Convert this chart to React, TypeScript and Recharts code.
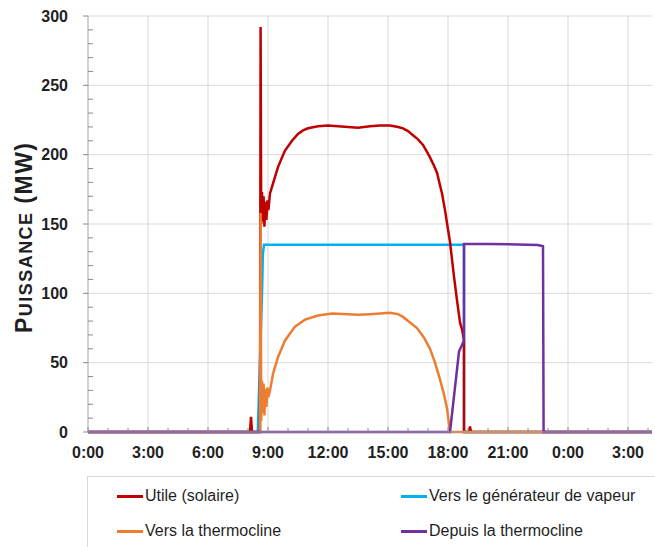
import { CartesianGrid, Line, LineChart, XAxis, YAxis } from "recharts";

// hours since midnight (day 1), power in MW
const utile: [number, number][] = [
  [0, 0], [8.1, 0], [8.15, 11], [8.2, 0], [8.6, 0], [8.63, 292], [8.66, 150],
  [8.7, 173], [8.74, 152], [8.78, 170], [8.82, 148], [8.87, 166], [8.92, 153],
  [8.97, 167], [9.02, 160], [9.1, 172], [9.35, 184], [9.5, 191], [9.7, 198],
  [9.85, 203], [10.2, 210], [10.5, 215], [10.75, 217.5], [11, 219], [11.5, 220.5],
  [12, 221], [12.5, 220.5], [13, 220], [13.5, 219.5], [14.1, 220.5], [14.6, 221],
  [15.1, 221], [15.5, 220], [15.75, 219], [16, 217], [16.25, 214], [16.5, 211],
  [16.75, 207], [16.95, 202], [17.1, 198], [17.3, 192], [17.45, 187], [17.6, 178],
  [17.7, 172], [17.85, 160], [18, 146], [18.1, 137], [18.3, 112], [18.45, 95],
  [18.6, 79], [18.7, 74], [18.8, 66], [18.8, 0], [19.05, 0], [19.1, 4],
  [19.15, 0], [28.2, 0],
];

const versGenerateur: [number, number][] = [
  [0, 0], [8.49, 0], [8.71, 105], [8.74, 128], [8.8, 135], [18.8, 135],
  [18.8, 0], [28.2, 0],
];

const versThermocline: [number, number][] = [
  [0, 0], [8.6, 0], [8.63, 158], [8.66, 8], [8.7, 37], [8.74, 14], [8.78, 35],
  [8.82, 12], [8.87, 31], [8.92, 18], [8.97, 32], [9.02, 25], [9.1, 30],
  [9.25, 42], [9.5, 54], [9.85, 66], [10.35, 76], [10.85, 81], [11.5, 84],
  [12.2, 85.5], [13, 85], [13.5, 84.5], [14.1, 85], [15.1, 86], [15.5, 85],
  [15.75, 83], [16.1, 79], [16.45, 75], [16.8, 68], [17.1, 60], [17.35, 50],
  [17.6, 38], [17.8, 27], [17.95, 17], [18.1, 0], [28.2, 0],
];

const depuisThermocline: [number, number][] = [
  [0, 0], [18.1, 0], [18.55, 58], [18.8, 66], [18.8, 135.5], [20, 135.5],
  [21.5, 135.3], [22.5, 134.8], [22.75, 134], [22.78, 0], [28.2, 0],
];

const hourTicks = Array.from({ length: 29 }, (_, i) => i);
const gridHours = [3, 6, 9, 12, 15, 18, 21, 24, 27];
const mwTicks = Array.from({ length: 31 }, (_, i) => i * 10);
const gridMW = [50, 100, 150, 200, 250, 300];

// legend order
const series = [
  { name: "Utile (solaire)", color: "#C00000", points: utile, z: 1 },
  { name: "Vers le générateur de vapeur", color: "#00B0F0", points: versGenerateur, z: 0 },
  { name: "Vers la thermocline", color: "#ED7D31", points: versThermocline, z: 2 },
  { name: "Depuis la thermocline", color: "#7030A0", points: depuisThermocline, z: 3 },
];
// drawing order (blue sits under the red curve)
const drawOrder = [...series].sort((a, b) => a.z - b.z);

const FONT = "'Liberation Sans', Arial, sans-serif";
const TEXT = "#1f1f1f";
const TICK = "#8c8c8c";

function YTick({ x, y, payload }: any) {
  const v = payload.value as number;
  if (v % 50 !== 0) {
    return <line x1={x} x2={x + 5} y1={y} y2={y} stroke={TICK} />;
  }
  return (
    <g>
      <line x1={x - 5} x2={x} y1={y} y2={y} stroke={TICK} />
      <text x={x - 20} y={y} dy="0.35em" textAnchor="end" fontFamily={FONT}
        fontWeight="bold" fontSize={16} fill={TEXT}>{v}</text>
    </g>
  );
}

function XTick({ x, y, payload }: any) {
  const h = payload.value as number;
  const major = h % 3 === 0;
  return (
    <g>
      <line x1={x} x2={x} y1={y} y2={y - (major ? 5 : 4)} stroke={TICK} />
      {major && (
        <text x={x} y={y + 26} textAnchor="middle" fontFamily={FONT}
          fontWeight="bold" fontSize={16} fill={TEXT}>{`${h % 24}:00`}</text>
      )}
    </g>
  );
}

function YTitle({ viewBox }: any) {
  const cx = 32;
  const cy = viewBox.y + viewBox.height / 2 + 14;
  return (
    <text x={cx} y={cy} textAnchor="middle" transform={`rotate(-90, ${cx}, ${cy})`}
      fontFamily={FONT} fontWeight="bold" fill={TEXT} textLength={190}
      lengthAdjust="spacing">
      <tspan fontSize={23}>P</tspan>
      <tspan fontSize={18}>UISSANCE</tspan>
      <tspan fontSize={23}> (MW)</tspan>
    </text>
  );
}

export default function App() {
  return (
    <div style={{ position: "absolute", left: 0, top: 0, width: 655, height: 547,
      overflow: "hidden", background: "#fff" }}>
      <LineChart width={655} height={470} margin={{ top: 16, right: 3, left: 0, bottom: 0 }}>
        <CartesianGrid stroke="#d9d9d9" horizontalValues={gridMW} verticalValues={gridHours} />
        <XAxis type="number" dataKey="h" domain={[0, 28.2]} ticks={hourTicks}
          allowDataOverflow interval={0} height={38} tickSize={0} tickMargin={0}
          tickLine={false} axisLine={{ stroke: "#a6a6a6" }} tick={<XTick />} />
        <YAxis type="number" domain={[0, 300]} ticks={mwTicks} interval={0} width={88}
          tickSize={0} tickMargin={0} tickLine={false} axisLine={{ stroke: "#a6a6a6" }}
          tick={<YTick />} label={<YTitle />} />
        {drawOrder.map((s) => (
          <Line key={s.name} name={s.name} type="linear"
            data={s.points.map(([h, v]) => ({ h, v }))} dataKey="v"
            stroke={s.color} strokeWidth={2.5} dot={false} isAnimationActive={false} />
        ))}
      </LineChart>
      <div style={{ position: "absolute", left: 87, top: 476, width: 600, height: 100,
        border: "1px solid #d9d9d9", fontFamily: FONT, fontSize: 16, color: TEXT }}>
        {series.map((s, i) => (
          <div key={s.name} style={{ position: "absolute",
            left: i % 2 === 0 ? 29 : 313, top: i < 2 ? 8 : 43,
            display: "flex", alignItems: "center", height: 22, whiteSpace: "nowrap" }}>
            <span style={{ display: "inline-block", width: 26, height: 3,
              background: s.color, marginRight: 2 }} />
            {s.name}
          </div>
        ))}
      </div>
    </div>
  );
}
